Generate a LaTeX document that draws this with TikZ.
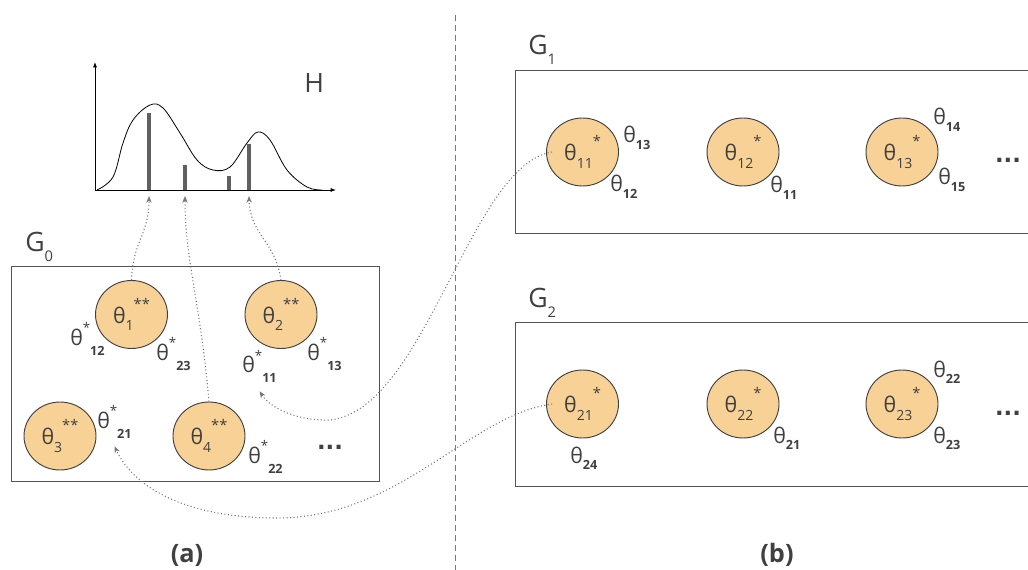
\documentclass[tikz,border=0pt]{standalone}
\usepackage{fontspec}
\setmainfont{Open Sans}
\newfontfamily\dotfont{DejaVu Sans}
\usetikzlibrary{arrows.meta,shapes.geometric}

\definecolor{paramfill}{RGB}{248,209,150}
\definecolor{inkgray}{RGB}{64,64,64}
\definecolor{linkgray}{RGB}{120,120,120}

% theta inside a circle: subscript, then star(s)
\newcommand{\tpar}[2]{θ\raisebox{-5.5pt}{\fontsize{10.5}{10.5}\selectfont #1}\raisebox{10.5pt}{\fontsize{11}{11}\selectfont #2}}
% theta label with star, bold subscript
\newcommand{\tstar}[1]{θ\raisebox{9.5pt}{\fontsize{10}{10}\selectfont *}\raisebox{-7.5pt}{\fontsize{9.5}{9.5}\selectfont\bfseries #1}}
% theta label without star
\newcommand{\tplain}[1]{θ\raisebox{-5pt}{\fontsize{9.5}{9.5}\selectfont\bfseries #1}}
\newcommand{\gname}[1]{G\raisebox{-7.5pt}{\fontsize{11}{11}\selectfont #1}}

\tikzset{
  param/.style={ellipse, draw=inkgray, fill=paramfill, line width=0.7pt,
    minimum width=54pt, minimum height=51pt, inner sep=0pt, text=inkgray,
    font=\fontsize{16}{16}\selectfont},
  lab/.style={anchor=base west, inner sep=0pt, text=inkgray, font=\fontsize{16}{16}\selectfont},
  big/.style={lab, font=\fontsize{20}{20}\selectfont},
  group/.style={draw=inkgray!90, line width=0.7pt},
  link/.style={linkgray, line width=0.8pt, dash pattern=on 0.8pt off 1.8pt,
    -{Stealth[length=5pt,width=4pt,inset=1.5pt]}},
  bar/.style={line width=3pt, gray!75!black},
  more/.style={font=\dotfont\fontsize{17}{17}\selectfont\bfseries, text=inkgray, inner sep=0pt},
  caption/.style={anchor=base, inner sep=0pt, text=inkgray, font=\fontsize{19}{19}\selectfont\bfseries},
}

\begin{document}
\begin{tikzpicture}[x=0.75pt, y=-0.75pt, >=latex]
    \useasboundingbox (0,0) rectangle (1028,570);

    % 1. Histogram H
    \draw[-{Latex[length=4pt,width=3pt]}, line width=0.6pt] (95,190) -- (95,62);
    \draw[-{Latex[length=4pt,width=3pt]}, line width=0.6pt] (95,190) -- (336,190);
    \draw[line width=0.6pt] plot[smooth, tension=0.6] coordinates {
        (97,190) (113,177) (123,143) (133,120) (150,105) (163,108) (180,133)
        (197,160) (213,170) (230,167) (247,143) (258,132) (270,140) (287,170)
        (307,187) (322,190)};
    \draw[bar] (149,190) -- (149,113);
    \draw[bar] (185,190) -- (185,165);
    \draw[bar] (229,190) -- (229,176);
    \draw[bar] (249,190) -- (249,144);
    \coordinate (b1) at (149,196);
    \coordinate (b2) at (185,196);
    \coordinate (b4) at (249,196);
    \node[big] (hname) at (304,93) {H};

    % 2. Group G0
    \node[big] (g0name) at (25,252) {\gname{0}};
    \draw[group] (11,266) rectangle (379,481);
    \node[param] (p1) at (131.5,314.5) {\tpar{1}{**}};
    \node[param] (p2) at (281,314.5) {\tpar{2}{**}};
    \node[param] (p3) at (60,436) {\tpar{3}{**}};
    \node[param] (p4) at (209,436) {\tpar{4}{**}};
    \node[lab] (l12) at (70,345) {\tstar{12}};
    \node[lab] (l23) at (156,360) {\tstar{23}};
    \node[lab] (l11) at (242,373) {\tstar{11}};
    \node[lab] (l13) at (307,360) {\tstar{13}};
    \node[lab] (l21) at (97,428) {\tstar{21}};
    \node[lab] (l22) at (248,463) {\tstar{22}};
    \node[more] (m0) at (330,447) {...};
    \coordinate (l11tip) at ([yshift=-6pt]l11.south);
    \coordinate (l21tip) at ([yshift=-6pt]l21.south);

    % 3. Links from G0 to the histogram
    \draw[link] (p1.north) .. controls (133,240) and (149,235) .. (b1);
    \draw[link] (p4.north) .. controls (200,300) and (185,260) .. (b2);
    \draw[link] (p2.north) .. controls (275,240) and (250,235) .. (b4);

    % 4. Divider
    \draw[linkgray, line width=0.7pt, dash pattern=on 4.5pt off 3pt] (455,15) -- (455,570);

    % 5. Group G1
    \node[big] (g1name) at (528,55) {\gname{1}};
    \draw[group] (1030,70) -- (515,70) -- (515,233) -- (1030,233);
    \node[param] (g11) at (582.5,152) {\tpar{11}{*}};
    \node[param] (g12) at (743,152) {\tpar{12}{*}};
    \node[param] (g13) at (902,152) {\tpar{13}{*}};
    \node[lab] (h13) at (623,143) {\tplain{13}};
    \node[lab] (h12) at (610,192) {\tplain{12}};
    \node[lab] (h11) at (770,193) {\tplain{11}};
    \node[lab] (h14) at (933,125) {\tplain{14}};
    \node[lab] (h15) at (938,185) {\tplain{15}};
    \node[more] (m1) at (1008,160) {...};

    % 6. Group G2
    \node[big] (g2name) at (528,307) {\gname{2}};
    \draw[group] (1030,322) -- (515,322) -- (515,486) -- (1030,486);
    \node[param] (g21) at (582.5,404) {\tpar{21}{*}};
    \node[param] (g22) at (743,404) {\tpar{22}{*}};
    \node[param] (g23) at (902,404) {\tpar{23}{*}};
    \node[lab] (k24) at (570,463) {\tplain{24}};
    \node[lab] (k21) at (773,443) {\tplain{21}};
    \node[lab] (k22) at (933,377) {\tplain{22}};
    \node[lab] (k23) at (933,443) {\tplain{23}};
    \node[more] (m2) at (1008,413) {...};

    % 7. Links back from G1 and G2 into G0
    \draw[link] ([xshift=4.5pt]g11.west) .. controls (470,165) and (425,410) .. (330,420)
        .. controls (300,421) and (272,410) .. (l11tip);
    \draw[link] ([xshift=4.5pt]g21.west) .. controls (470,415) and (400,518) .. (277,518)
        .. controls (190,518) and (135,490) .. (l21tip);

    % 8. Captions
    \node[caption] (capa) at (187,562) {(a)};
    \node[caption] (capb) at (777,562) {(b)};
\end{tikzpicture}
\end{document}
